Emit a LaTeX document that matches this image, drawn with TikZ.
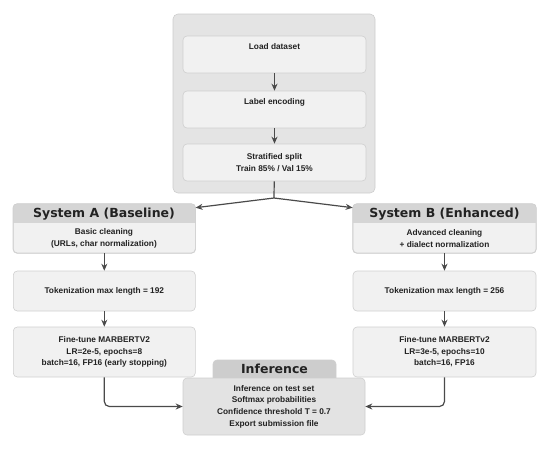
\documentclass[tikz,border=0pt]{standalone}
\usepackage{fontspec}
\setmainfont{Liberation Sans}
\newfontfamily\headfont{DejaVu Sans}
\usetikzlibrary{arrows.meta, positioning}

\definecolor{panelfill}{HTML}{E4E4E4}
\definecolor{paneledge}{HTML}{CDCDCD}
\definecolor{boxfill}{HTML}{F1F1F1}
\definecolor{boxedge}{HTML}{CFCFCF}
\definecolor{headfill}{HTML}{D5D5D5}
\definecolor{inffill}{HTML}{E3E3E3}
\definecolor{infhead}{HTML}{CDCDCD}
\definecolor{linegray}{HTML}{4A4A4A}
\definecolor{textgray}{HTML}{222222}

\tikzset{
  stepbox/.style={draw=boxedge, fill=boxfill, rounded corners=4pt, line width=0.6pt,
    minimum width=183pt, inner sep=0pt, align=center, text=textgray,
    font=\bfseries\fontsize{8.3}{11.6}\selectfont},
  headtext/.style={text=textgray, font=\headfont\bfseries\fontsize{12.5}{14}\selectfont},
  flow/.style={draw=linegray, line width=1.2pt, -{Stealth[length=7pt,width=6pt]}},
}

\begin{document}
\begin{tikzpicture}[x=1pt, y=-1pt]
\useasboundingbox (0,0) rectangle (554,448);
% Data preparation panel
\node[draw=paneledge, fill=panelfill, rounded corners=5pt, line width=0.6pt,
      minimum width=202pt, minimum height=179pt] (panel) at (274,103.5) {};
\node[stepbox, minimum height=37pt,
      label={[anchor=north, yshift=-4pt, text=textgray, font=\bfseries\fontsize{8.3}{10}\selectfont]north:Load dataset}]
      (load) at (274.5,54.5) {};
\node[stepbox, minimum height=37pt,
      label={[anchor=north, yshift=-4pt, text=textgray, font=\bfseries\fontsize{8.3}{10}\selectfont]north:Label encoding}]
      (encode) at (274.5,109.5) {};
\node[stepbox, minimum height=37pt] (split) at (274.5,162.5) {Stratified split\\Train 85\% / Val 15\%};
\draw[flow] (load) -- (encode);
\draw[flow] (encode) -- (split);

% System A
\node[stepbox, minimum width=182pt, minimum height=49pt] (sysA) at (104.3,228.5) {};
\begin{scope}
  \clip[rounded corners=4pt] (sysA.north west) rectangle (sysA.south east);
  \fill[headfill] (sysA.north west) rectangle ([yshift=-19pt]sysA.north east);
\end{scope}
\draw[boxedge, rounded corners=4pt, line width=0.6pt] (sysA.north west) rectangle (sysA.south east);
\node[headtext] (sysAhead) at (104,214) {System A (Baseline)};
\node[stepbox, draw=none, fill=none] (cleanA) at (104,238.5) {Basic cleaning\\(URLs, char normalization)};
\node[stepbox, minimum width=182pt, minimum height=40pt] (tokA) at (104.3,291) {Tokenization max length = 192};
\node[stepbox, minimum width=182pt, minimum height=50pt] (fineA) at (104.3,352)
  {Fine-tune MARBERTV2\\LR=2e-5, epochs=8\\batch=16, FP16 (early stopping)};

% System B
\node[stepbox, minimum height=49pt] (sysB) at (444.5,228.5) {};
\begin{scope}
  \clip[rounded corners=4pt] (sysB.north west) rectangle (sysB.south east);
  \fill[headfill] (sysB.north west) rectangle ([yshift=-19pt]sysB.north east);
\end{scope}
\draw[boxedge, rounded corners=4pt, line width=0.6pt] (sysB.north west) rectangle (sysB.south east);
\node[headtext] (sysBhead) at (444.5,214) {System B (Enhanced)};
\node[stepbox, draw=none, fill=none] (cleanB) at (444.5,238.5) {Advanced cleaning\\+ dialect normalization};
\node[stepbox, minimum height=40pt] (tokB) at (444.5,291) {Tokenization max length = 256};
\node[stepbox, minimum height=50pt] (fineB) at (444.5,352)
  {Fine-tune MARBERTv2\\LR=3e-5, epochs=10\\batch=16, FP16};

% Inference
\node[stepbox, draw=boxedge, fill=infhead, minimum width=123pt, minimum height=24pt] (infhead) at (274.5,372) {};
\node[stepbox, fill=inffill, minimum width=182pt, minimum height=57pt] (inf) at (274,406.5)
  {Inference on test set\\Softmax probabilities\\Confidence threshold T = 0.7\\Export submission file};
\node[headtext] (inftitle) at (274.5,369) {Inference};

% Connectors
\coordinate (fork) at (274,198);
\draw[draw=linegray, line width=1.2pt] (split) -- (fork);
\draw[flow] (fork) -- ([yshift=-4pt]sysA.north east);
\draw[flow] (fork) -- ([yshift=-4pt]sysB.north west);
\draw[flow] (sysA) -- (tokA);
\draw[flow] (tokA) -- (fineA);
\draw[flow] (sysB) -- (tokB);
\draw[flow] (tokB) -- (fineB);
\draw[flow, rounded corners=5pt] (fineA) |- (inf);
\draw[flow, rounded corners=5pt] (fineB) |- (inf);
\end{tikzpicture}
\end{document}
